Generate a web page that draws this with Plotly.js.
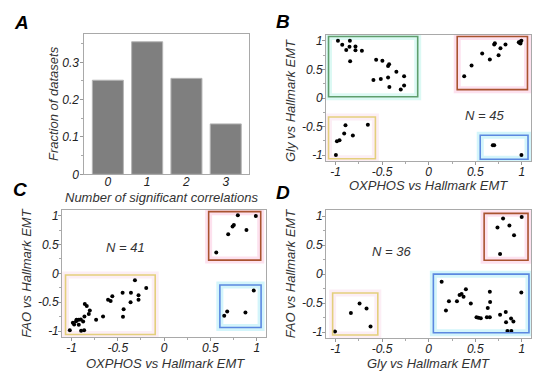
<!DOCTYPE html>
<html>
<head>
<meta charset="utf-8">
<script src="https://cdn.plot.ly/plotly-3.0.1.min.js"></script>
<style>html,body{margin:0;padding:0;background:#fff}#chart{width:550px;height:379px}</style>
</head>
<body>
<div id="chart"></div>
<script>
// ---- Panel A: fraction of datasets by number of significant correlations
const sigCorrCategories = [0, 1, 2, 3];
const sigCorrLabels = ['0', '1', '2', '3'];
const datasetFractions = [0.252, 0.355, 0.257, 0.135];

// ---- Panel B: OXPHOS vs Hallmark EMT (x) against Gly vs Hallmark EMT (y), N = 45
const bOxphos = [-0.974,-0.928,-0.846,-0.885,-0.85,-0.786,-0.786,-0.717,-0.843,-0.564,-0.497,-0.425,-0.436,-0.347,-0.264,-0.593,-0.514,-0.436,-0.422,-0.30,-0.264,
  -0.996,-0.985,-0.957,-0.907,-0.893,-0.814,-0.653,
  0.381,0.46,0.574,0.656,0.703,0.71,0.77,0.75,0.824,0.967,0.985,0.995,0.985,0.975,
  0.688,0.703,0.995];
const bGly = [1.0,0.93,1.0,0.84,0.895,0.9,0.835,0.825,0.64,0.67,0.65,0.59,0.56,0.46,0.38,0.315,0.33,0.36,0.19,0.15,0.22,
  -0.995,-0.755,-0.737,-0.62,-0.474,-0.656,-0.468,
  0.38,0.567,0.777,0.672,0.935,0.958,0.87,0.747,0.935,0.975,0.988,1.0,0.953,0.965,
  -0.825,-0.825,-0.995];

// ---- Panel C: OXPHOS vs Hallmark EMT (x) against FAO vs Hallmark EMT (y), N = 41
const cOxphos = [-1.018,-0.985,-0.971,-0.946,-0.921,-0.899,-0.921,-0.874,-0.896,-0.863,-0.86,-0.856,-0.835,-0.802,-0.813,-0.734,-0.659,-0.605,-0.577,-0.559,-0.448,-0.437,-0.444,-0.358,-0.362,-0.315,-0.276,-0.276,-0.193,-0.95,
  0.563,0.692,0.739,0.753,0.796,0.889,0.99,
  0.649,0.681,0.878,0.968];
const cFao = [-0.983,-0.857,-0.886,-0.805,-0.805,-0.799,-0.891,-0.834,-0.995,-0.983,-0.747,-0.529,-0.564,-0.644,-0.702,-0.805,-0.747,-0.455,-0.478,-0.397,-0.334,-0.621,-0.753,-0.334,-0.5,-0.121,-0.38,-0.455,-0.253,-0.83,
  0.362,0.678,0.81,0.839,1.005,0.752,0.994,
  -0.736,-0.661,-0.679,-0.299];

// ---- Panel D: Gly vs Hallmark EMT (x) against FAO vs Hallmark EMT (y), N = 36
const dGly = [-1.006,-0.835,-0.742,-0.667,-0.624,
  0.798,0.738,0.866,0.998,0.916,0.766,
  0.139,0.217,0.185,0.303,0.331,0.353,0.374,0.399,0.452,0.513,0.534,0.559,0.624,0.656,0.634,0.659,0.656,0.766,0.827,0.83,0.884,0.909,0.845,0.887,0.994];
const dFao = [-0.988,-0.669,-0.509,-0.595,-0.903,
  0.955,0.801,0.835,0.983,0.67,0.345,
  -0.133,-0.47,-0.629,-0.47,-0.361,-0.344,-0.39,-0.264,-0.509,-0.743,-0.754,-0.76,-0.743,-0.743,-0.583,-0.481,-0.304,-0.703,-0.652,-0.829,-0.766,-0.817,-0.982,-0.982,-0.316];

const panelLetters = ['A', 'B', 'C', 'D'];
const nLabels = ['N = 45', 'N = 41', 'N = 36'];
const xTitles = ['Number of significant correlations', 'OXPHOS vs Hallmark EMT', 'OXPHOS vs Hallmark EMT', 'Gly vs Hallmark EMT'];
const yTitles = ['Fraction of datasets', 'Gly vs Hallmark EMT', 'FAO vs Hallmark EMT', 'FAO vs Hallmark EMT'];

const W = 550, H = 379;
const px = v => v / W;
const py = v => 1 - v / H;

const FONT = 'Liberation Sans, Arial, sans-serif';
const tickFont = {family: FONT, size: 12, color: '#222', style: 'italic'};

function scatterAxis(domain) {
  return {
    domain: domain, range: [-1.1, 1.1],
    tickmode: 'array', tickvals: [-1, -0.5, 0, 0.5, 1], ticktext: ['-1', '-0.5', '0', '0.5', '1'],
    ticks: 'outside', ticklen: 3, tickcolor: '#999', tickwidth: 1, ticklabelstandoff: -3,
    minor: {tickmode: 'array', tickvals: [-0.75, -0.25, 0.25, 0.75], ticks: 'outside', ticklen: 2, tickcolor: '#aaa'},
    showline: true, mirror: true, linecolor: '#a9a9a9', linewidth: 1,
    showgrid: false, zeroline: false, tickfont: tickFont, fixedrange: true
  };
}

const dot = {color: '#000', size: 4};
const traces = [
  {type: 'bar', x: sigCorrCategories, y: datasetFractions, xaxis: 'x', yaxis: 'y', width: 0.79,
   marker: {color: '#7f7f7f', line: {color: '#b5b5b5', width: 1}}, hoverinfo: 'skip'},
  {type: 'scatter', mode: 'markers', x: bOxphos, y: bGly, xaxis: 'x2', yaxis: 'y2', marker: dot},
  {type: 'scatter', mode: 'markers', x: cOxphos, y: cFao, xaxis: 'x3', yaxis: 'y3', marker: dot},
  {type: 'scatter', mode: 'markers', x: dGly, y: dFao, xaxis: 'x4', yaxis: 'y4', marker: dot}
];

function box(ax, x0, x1, y0, y1, color, halo) {
  const xr = 'x' + ax, yr = 'y' + ax;
  return [
    {type: 'rect', xref: xr, yref: yr, x0: x0, x1: x1, y0: y0, y1: y1, layer: 'below',
     line: {color: halo, width: 7}},
    {type: 'rect', xref: xr, yref: yr, x0: x0, x1: x1, y0: y0, y1: y1, layer: 'above',
     line: {color: color, width: 1.6}}
  ];
}
const GREEN = '#5f9e6c', RED = '#a9532f', YELLOW = '#e3cf7c', BLUE = '#5b88e0';
const HG = 'rgba(205,246,240,0.7)', HR = 'rgba(252,215,232,0.75)', HY = 'rgba(250,226,238,0.6)', HB = 'rgba(200,242,250,0.8)';

const shapes = [].concat(
  box(2, -1.075, -0.118, 0.023, 1.075, GREEN, HG),
  box(2, -1.075, -0.572, -1.06, -0.333, YELLOW, HY),
  box(2, 0.306, 1.06, 0.146, 1.075, RED, HR),
  box(2, 0.553, 1.066, -1.07, -0.65, BLUE, HB),
  box(3, -1.064, -0.096, -1.058, -0.029, YELLOW, HY),
  box(3, 0.481, 1.043, 0.229, 1.068, RED, HR),
  box(3, 0.602, 1.047, -0.937, -0.202, BLUE, HB),
  box(4, -1.031, -0.546, -1.051, -0.327, YELLOW, HY),
  box(4, 0.595, 1.066, 0.237, 1.046, RED, HR),
  box(4, 0.05, 1.076, -1.011, -0.002, BLUE, HB)
);

const titleFont = {family: FONT, size: 13, color: '#333', style: 'italic'};
const letterFont = {family: FONT, size: 19, color: '#000', weight: 'bold', style: 'italic'};
const ann = [];
const letterPos = [[21, 23], [283, 21], [20, 189], [283, 192]];
panelLetters.forEach((t, i) => ann.push({text: t, xref: 'paper', yref: 'paper', x: px(letterPos[i][0]), y: py(letterPos[i][1]),
  xanchor: 'center', yanchor: 'middle', showarrow: false, font: letterFont}));
const xtPos = [[161, 197], [428.8, 185], [165, 363], [428, 363]];
const ytPos = [[53, 104], [290.5, 100.5], [25.7, 273], [290.7, 273.5]];
xTitles.forEach((t, i) => ann.push({text: t, xref: 'paper', yref: 'paper', x: px(xtPos[i][0]), y: py(xtPos[i][1]),
  xanchor: 'center', yanchor: 'middle', showarrow: false, font: titleFont}));
yTitles.forEach((t, i) => ann.push({text: t, xref: 'paper', yref: 'paper', x: px(ytPos[i][0]), y: py(ytPos[i][1]),
  xanchor: 'center', yanchor: 'middle', showarrow: false, textangle: -90, font: titleFont}));
const nPos = [['x2', 'y2', 0.595, -0.305], ['x3', 'y3', -0.415, 0.44], ['x4', 'y4', -0.403, 0.385]];
nLabels.forEach((t, i) => ann.push({text: t, xref: nPos[i][0], yref: nPos[i][1], x: nPos[i][2], y: nPos[i][3],
  xanchor: 'center', yanchor: 'middle', showarrow: false, font: titleFont}));

const layout = {
  width: W, height: H, margin: {l: 0, r: 0, t: 0, b: 0},
  paper_bgcolor: '#fff', plot_bgcolor: '#fff', showlegend: false, bargap: 0.2,
  font: {family: FONT},
  xaxis: {domain: [px(84.3), px(249.3)], range: [-0.6, 3.6], tickmode: 'array', tickvals: sigCorrCategories, ticktext: sigCorrLabels,
          ticks: '', ticklabelstandoff: -4, showline: true, mirror: true, linecolor: '#a9a9a9', showgrid: false, zeroline: false, tickfont: tickFont, fixedrange: true},
  yaxis: {domain: [py(174.3), py(34.3)], range: [0, 0.375], tickmode: 'array', tickvals: [0, 0.1, 0.2, 0.3], ticktext: ['0', '0.1', '0.2', '0.3'],
          ticks: 'outside', ticklen: 3, tickcolor: '#999', ticklabelstandoff: -1,
          minor: {tickmode: 'array', tickvals: [0.05, 0.15, 0.25, 0.35], ticks: 'outside', ticklen: 2, tickcolor: '#aaa'},
          showline: true, mirror: true, linecolor: '#a9a9a9', showgrid: false, zeroline: false, tickfont: tickFont, fixedrange: true},
  xaxis2: Object.assign(scatterAxis([px(326.2), px(531.2)]), {anchor: 'y2'}),
  yaxis2: Object.assign(scatterAxis([py(161), py(35)]), {anchor: 'x2'}),
  xaxis3: Object.assign(scatterAxis([px(62.2), px(266)]), {anchor: 'y3'}),
  yaxis3: Object.assign(scatterAxis([py(336.9), py(209.8)]), {anchor: 'x3'}),
  xaxis4: Object.assign(scatterAxis([px(326.2), px(531.2)]), {anchor: 'y4'}),
  yaxis4: Object.assign(scatterAxis([py(337.9), py(210.2)]), {anchor: 'x4'}),
  shapes: shapes,
  annotations: ann
};

Plotly.newPlot('chart', traces, layout, {staticPlot: true, displayModeBar: false});
</script>
</body>
</html>
